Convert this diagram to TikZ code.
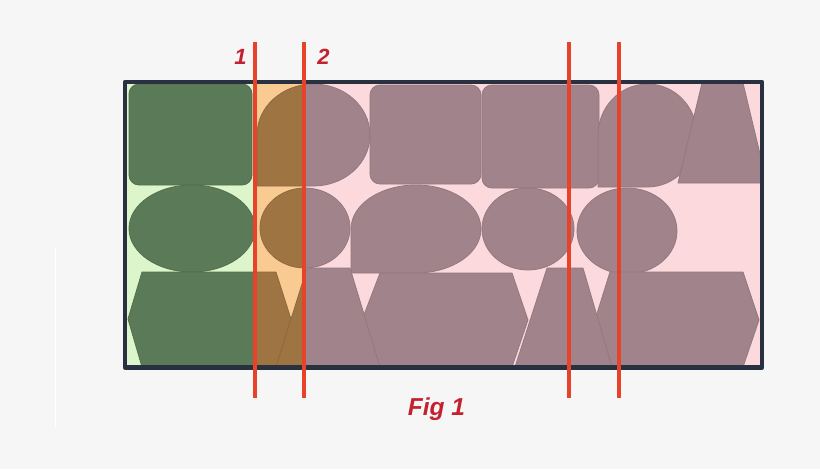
\documentclass[tikz,border=0pt]{standalone}
\usepackage{fontspec}
\setmainfont{Liberation Sans}
\definecolor{bgc}{HTML}{F6F6F6}
\definecolor{gbg}{HTML}{DCF5CB}
\definecolor{obg}{HTML}{F9CB92}
\definecolor{pbg}{HTML}{FBD9DC}
\definecolor{gsh}{HTML}{5B7A57}
\definecolor{gedge}{HTML}{52704E}
\definecolor{bsh}{HTML}{9E7443}
\definecolor{bedge}{HTML}{8F6A3D}
\definecolor{msh}{HTML}{A1838B}
\definecolor{medge}{HTML}{95777F}
\definecolor{framec}{HTML}{29303F}
\definecolor{redl}{HTML}{E6432A}
\definecolor{txtred}{HTML}{C4212F}
\newcommand\unionell[4]{% cx cy rx ry : ellipse with square lower-left quadrant
  \path[shp] ({#1-#3},#2) -- ({#1-#3},{#2+#4}) -- (#1,{#2+#4})
    arc[start angle=90, end angle=-180, x radius=#3, y radius=#4] -- cycle;}
\newcommand\drawallshapes[2]{%
  \tikzset{shp/.style={fill=#1, draw=#2, line width=0.8pt, line join=round}}%
  % row 1
  \path[shp, rounded corners=10pt] (129,84) rectangle (252,185);
  \unionell{313.5}{135}{56.5}{51}
  \path[shp, rounded corners=10pt] (370,85) rectangle (481,184);
  \path[shp, rounded corners=10pt] (482,85) rectangle (599,188);
  \unionell{647.5}{135.5}{49.5}{51.5}
  \path[shp] (702,83) -- (743,83) -- (767,183) -- (678,183) -- cycle;
  % row 2
  \path[shp] (192,228.5) ellipse [x radius=63, y radius=43.5];
  \path[shp] (305,228) ellipse [x radius=45, y radius=40];
  \unionell{416}{229}{65}{44}
  \path[shp] (528,229) ellipse [x radius=46, y radius=41];
  \path[shp] (627,231) ellipse [x radius=50, y radius=43];
  % row 3 hexagons
  \path[shp] (128,319) -- (142,272) -- (276,272) -- (291,319) -- (276,367) -- (142,367) -- cycle;
  \path[shp] (362,320) -- (380,273) -- (512,273) -- (528,320) -- (512,367) -- (380,367) -- cycle;
  \path[shp] (595,320) -- (610,272) -- (743,272) -- (759,320) -- (743,367) -- (610,367) -- cycle;
  % row 3 trapezoids
  \path[shp] (307,268) -- (350,268) -- (380,367) -- (276,367) -- cycle;
  \path[shp] (547,268) -- (583,268) -- (612,367) -- (515,367) -- cycle;
}
\begin{document}
\begin{tikzpicture}[x=1pt,y=-1pt,
  redline/.style={draw=redl, line width=4.5pt},
  numlbl/.style={text=txtred, inner sep=0pt, anchor=center, font=\fontsize{22}{26}\selectfont\bfseries\itshape},
  figlbl/.style={text=txtred, inner sep=0pt, anchor=center, font=\fontsize{24.5}{29}\selectfont\bfseries\itshape},
  framebox/.style={draw=framec, line width=4.5pt, line join=round}]
\useasboundingbox (0,0) rectangle (820,469);
\fill[bgc] (0,0) rectangle (820,469);
\draw[white, line width=1pt] (55,247) -- (55,428);
% background regions
\fill[gbg] (125,82) rectangle (255,367.5);
\fill[obg] (255,82) rectangle (304,367.5);
\fill[pbg] (304,82) rectangle (762,367.5);
% shapes, coloured per region
\begin{scope}
  \clip (125,82) rectangle (255,367.5);
  \drawallshapes{gsh}{gedge}
\end{scope}
\begin{scope}
  \clip (255,82) rectangle (304,367.5);
  \drawallshapes{bsh}{bedge}
\end{scope}
\begin{scope}
  \clip (304,82) rectangle (762,367.5);
  \drawallshapes{msh}{medge}
\end{scope}
% frame
\draw[framebox] (125,82) rectangle (762,367.5);
% red lines
\draw[redline] (255,42) -- (255,398);
\draw[redline] (304,42) -- (304,398);
\draw[redline] (569,42) -- (569,398);
\draw[redline] (619,42) -- (619,398);
% labels
\node[numlbl] (l1) at (240.5,57) {1};
\node[numlbl] (l2) at (323.5,57) {2};
\node[figlbl] (fig) at (436.5,409) {Fig 1};
\end{tikzpicture}
\end{document}
